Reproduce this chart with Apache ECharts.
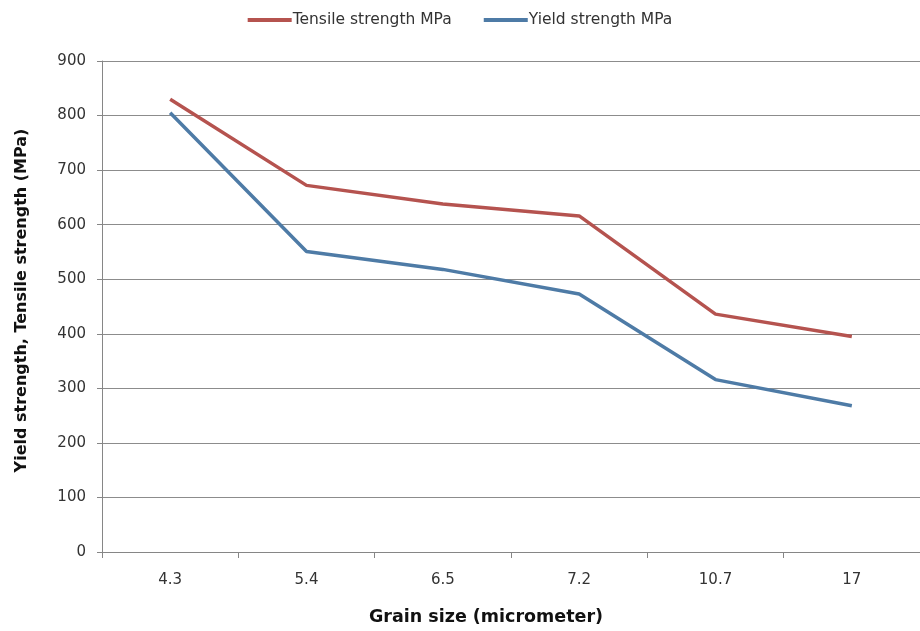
<!DOCTYPE html>
<html><head><meta charset="utf-8">
<script src="https://cdn.jsdelivr.net/npm/echarts@6/dist/echarts.min.js"></script>
<style>html,body{margin:0;padding:0;background:#fff}#c{width:920px;height:631px}</style>
</head><body><div id="c"></div>
<script>
var categories = ['4.3', '5.4', '6.5', '7.2', '10.7', '17'];
var tensile = [830, 672, 638, 616, 436, 395];
var yieldS = [805, 551, 518, 473, 316, 268];
var yTicks = { min: 0, max: 900, interval: 100 };

var font = 'DejaVu Sans';
var chart = echarts.init(document.getElementById('c'));
chart.setOption({
  animation: false,
  legend: {
    top: 7, left: 'center', itemWidth: 44, itemHeight: 4, itemGap: 32,
    icon: 'rect',
    textStyle: { fontFamily: font, fontSize: 15.5, color: '#333', padding: [0, 0, 0, -4] },
    data: ['Tensile strength MPa', 'Yield strength MPa']
  },
  grid: { left: 102, right: -2, top: 61, bottom: 79 },
  xAxis: {
    type: 'category', data: categories, boundaryGap: true,
    name: 'Grain size (micrometer)', nameLocation: 'middle', nameGap: 56,
    nameTextStyle: { fontFamily: font, fontSize: 17.5, fontWeight: 'bold', color: '#111', padding: [0, 50, 0, 0] },
    axisLine: { lineStyle: { color: '#868686', width: 1 } },
    axisTick: { show: true, length: 6, lineStyle: { color: '#868686' }, alignWithLabel: false },
    axisLabel: { fontFamily: font, fontSize: 15, color: '#333', margin: 21 }
  },
  yAxis: {
    type: 'value', min: yTicks.min, max: yTicks.max, interval: yTicks.interval,
    name: 'Yield strength, Tensile strength (MPa)', nameLocation: 'middle', nameGap: 72,
    nameTextStyle: { fontFamily: font, fontSize: 16, fontWeight: 'bold', color: '#111', padding: [0, 0, 0, 12] },
    axisLine: { show: true, lineStyle: { color: '#868686', width: 1 } },
    axisTick: { show: true, length: 5, lineStyle: { color: '#868686' } },
    axisLabel: { fontFamily: font, fontSize: 15, color: '#333', margin: 16 },
    splitLine: { lineStyle: { color: '#8c8c8c', width: 1 } }
  },
  series: [
    { name: 'Tensile strength MPa', type: 'line', data: tensile, symbol: 'none',
      lineStyle: { color: '#b5534f', width: 3.5 }, itemStyle: { color: '#b5534f' } },
    { name: 'Yield strength MPa', type: 'line', data: yieldS, symbol: 'none',
      lineStyle: { color: '#4e7ba6', width: 3.5 }, itemStyle: { color: '#4e7ba6' } }
  ]
});
</script>
</body></html>
